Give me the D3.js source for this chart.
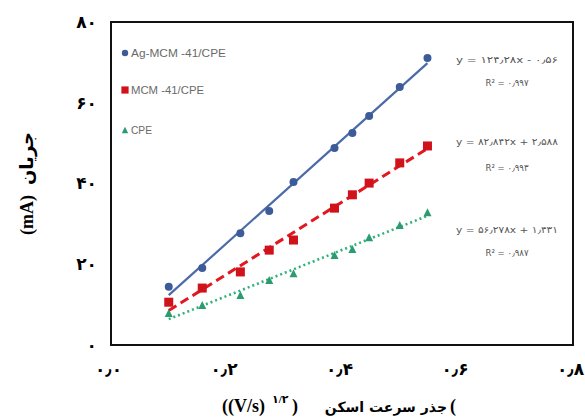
<!DOCTYPE html>
<html><head><meta charset="utf-8">
<script src="https://cdn.jsdelivr.net/npm/d3@7"></script>
<style>
html,body{margin:0;padding:0;background:#fff;}
svg{display:block;}
</style></head>
<body>
<svg id="chart" width="585" height="419"></svg>
<script>
// ---- data ----
const xVals = [0.1, 0.158, 0.224, 0.274, 0.316, 0.387, 0.418, 0.447, 0.5, 0.548];
const agMcmValues = [14.4, 19.1, 27.7, 33.2, 40.4, 48.8, 52.5, 56.7, 63.9, 71.1];
const mcmValues = [10.6, 14.1, 18.1, 23.5, 26.0, 33.9, 37.2, 40.1, 45.1, 49.3];
const cpeValues = [7.9, 9.9, 12.4, 16.1, 17.8, 22.3, 23.8, 26.7, 29.7, 32.9];
const seriesNames = ["Ag-MCM -41/CPE", "MCM -41/CPE", "CPE"];
const equations = ["y = ۱۲۴٫۲۸x - ۰٫۵۶", "y = ۸۲٫۸۴۲x + ۲٫۵۸۸", "y = ۵۶٫۲۷۸x + ۱٫۴۳۱"];
const rSquared = ["R² = ۰٫۹۹۷", "R² = ۰٫۹۹۳", "R² = ۰٫۹۸۷"];
const xTicks = [0, 0.2, 0.4, 0.6, 0.8];
const yTicks = [0, 20, 40, 60, 80];
const xTitle = "جذر سرعت اسکن";
const yTitle = "جریان";

const toFa = s => String(s).replace(/[0-9]/g, d => "۰۱۲۳۴۵۶۷۸۹"[+d]).replace(/\./g, "٫");

const svg = d3.select("#chart");
const x = d3.scaleLinear().domain([0, 0.8]).range([111, 573]);
const y = d3.scaleLinear().domain([0, 80]).range([345, 22]);

const styles = [
  {color: "#4a6aa8", marker: "circle", dash: null, width: 2.2, fill: "#3d5b99"},
  {color: "#e2171f", marker: "square", dash: "9,5", width: 3, fill: "#d0121b"},
  {color: "#2fb27a", marker: "triangle", dash: "2,3", width: 2.6, fill: "#2c9c70"}
];
const series = [agMcmValues, mcmValues, cpeValues];

// axes
const tickFont = "'Liberation Serif','DejaVu Sans',serif";
const ya = svg.append("g").attr("transform", "translate(111,0)")
  .call(d3.axisLeft(y).tickValues(yTicks).tickSize(0).tickPadding(14).tickFormat(d => toFa(d)));
ya.select(".domain").remove();
ya.selectAll("text").attr("font-size", 17).attr("font-weight", "bold").attr("font-family", tickFont).attr("fill", "#000");

const xa = svg.append("g").attr("transform", "translate(0,345)")
  .call(d3.axisBottom(x).tickValues(xTicks).tickSize(0).tickPadding(18).tickFormat(d => toFa(d.toFixed(1))));
xa.select(".domain").remove();
xa.selectAll("text").attr("font-size", 17).attr("font-weight", "bold").attr("font-family", tickFont).attr("fill", "#000").attr("dx", -3);

// frame
svg.append("rect").attr("x", x(0)).attr("y", y(80)).attr("width", x(0.8) - x(0)).attr("height", y(0) - y(80))
  .attr("fill", "none").attr("stroke", "#111").attr("stroke-width", 2);

// trendlines (least-squares fit of each series)
function fit(xs, ys) {
  const mx = d3.mean(xs), my = d3.mean(ys);
  let num = 0, den = 0;
  xs.forEach((v, i) => { num += (v - mx) * (ys[i] - my); den += (v - mx) ** 2; });
  const b = num / den; return {b, a: my - b * mx};
}
series.forEach((vals, si) => {
  const f = fit(xVals, vals);
  const x0 = d3.min(xVals), x1 = d3.max(xVals);
  const st = styles[si];
  svg.append("line").attr("x1", x(x0)).attr("y1", y(f.a + f.b * x0)).attr("x2", x(x1)).attr("y2", y(f.a + f.b * x1))
    .attr("stroke", st.color).attr("stroke-width", st.width).attr("stroke-dasharray", st.dash);
});

// markers
function drawMarker(g, type, cx, cy, fill, scale = 1) {
  if (type === "circle") g.append("circle").attr("cx", cx).attr("cy", cy).attr("r", 4 * scale).attr("fill", fill);
  else if (type === "square") { const s = 9 * scale; g.append("rect").attr("x", cx - s / 2).attr("y", cy - s / 2).attr("width", s).attr("height", s).attr("fill", fill); }
  else { const s = 8 * scale; g.append("path").attr("d", `M${cx},${cy - s / 2}L${cx + s / 2},${cy + s / 2}L${cx - s / 2},${cy + s / 2}Z`).attr("fill", fill); }
}
series.forEach((vals, si) => {
  const g = svg.append("g");
  vals.forEach((v, i) => drawMarker(g, styles[si].marker, x(xVals[i]), y(v), styles[si].fill));
});

// legend
const legY = [53, 90, 130];
const legW = [95, 73, 21];
seriesNames.forEach((n, i) => {
  const g = svg.append("g");
  drawMarker(g, styles[i].marker, 125, legY[i], styles[i].fill, 0.8);
  g.append("text").attr("x", 131).attr("y", legY[i] + 4).text(n)
    .attr("font-family", "'Liberation Sans Narrow','Liberation Sans',sans-serif").attr("font-size", 11.5)
    .attr("fill", "#6a6a6a").attr("textLength", legW[i]).attr("lengthAdjust", "spacingAndGlyphs");
});

// equations
const eqY = [[59, 82], [141, 167], [229, 252]];
equations.forEach((e, i) => {
  svg.append("text").attr("x", 507).attr("y", eqY[i][0] + 3.5).attr("text-anchor", "middle").text(e)
    .attr("font-family", "'DejaVu Sans Condensed','DejaVu Sans',sans-serif").attr("font-size", 9.5).attr("fill", "#555")
    .attr("textLength", 102).attr("lengthAdjust", "spacingAndGlyphs");
  svg.append("text").attr("x", 507).attr("y", eqY[i][1] + 3.5).attr("text-anchor", "middle").text(rSquared[i])
    .attr("font-family", "'DejaVu Sans Condensed','DejaVu Sans',sans-serif").attr("font-size", 9.5).attr("fill", "#555");
});

// x title
const tf = "'Liberation Serif','DejaVu Sans',serif";
svg.append("text").attr("x", 222).attr("y", 412).attr("font-family", tf).attr("font-weight", "bold").attr("font-size", 18).text("((V/s)");
svg.append("text").attr("x", 272).attr("y", 403).attr("font-family", tf).attr("font-weight", "bold").attr("font-size", 11).text("۱/۲");
svg.append("text").attr("x", 292).attr("y", 412).attr("font-family", tf).attr("font-weight", "bold").attr("font-size", 18).text(")");
svg.append("text").attr("x", 447).attr("y", 412).attr("text-anchor", "end").attr("font-family", "'DejaVu Sans',sans-serif").attr("font-weight", "bold").attr("font-size", 14).text(xTitle);
svg.append("text").attr("x", 450).attr("y", 412).attr("font-family", tf).attr("font-weight", "bold").attr("font-size", 18).text("(");

// y title
const yg = svg.append("g").attr("transform", "translate(33,185) rotate(-90)");
yg.append("text").attr("x", -50).attr("y", 0).attr("font-family", tf).attr("font-weight", "bold").attr("font-size", 18).text("(mA)");
yg.append("text").attr("x", 0).attr("y", 0).attr("font-family", "'DejaVu Sans',sans-serif").attr("font-weight", "bold").attr("font-size", 18).text(yTitle);
</script>
</body></html>
